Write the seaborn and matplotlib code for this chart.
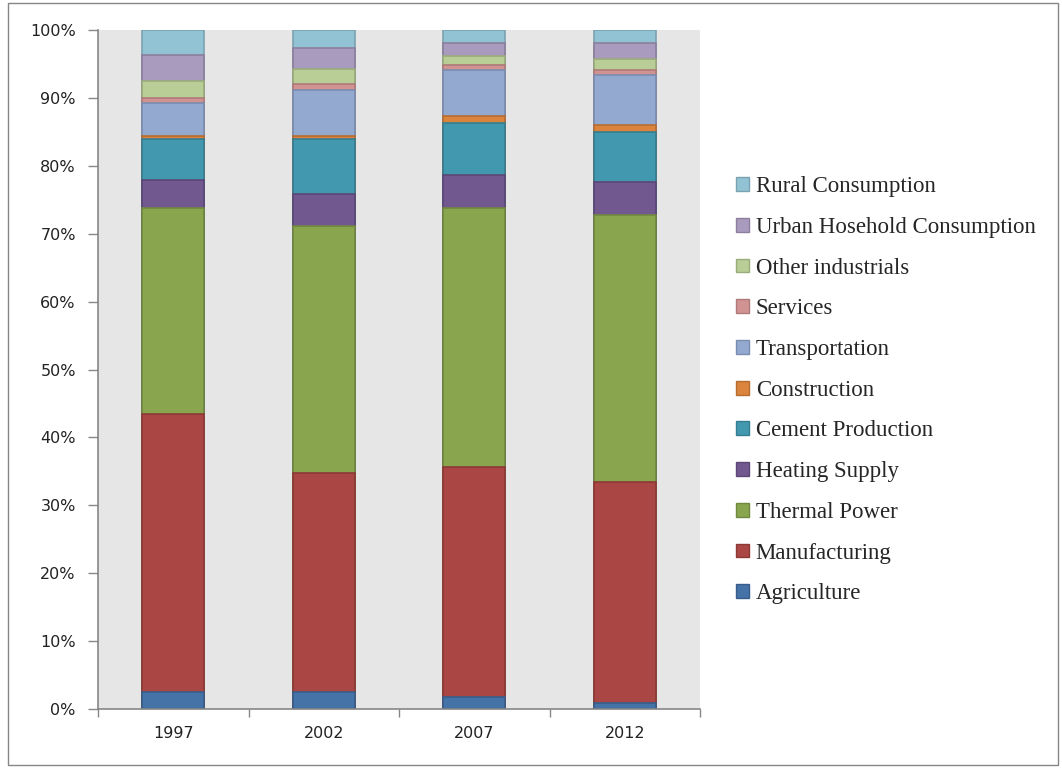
import numpy as np
import pandas as pd
import seaborn as sns
import matplotlib.pyplot as plt
from matplotlib.patches import Rectangle, Patch
from matplotlib.ticker import PercentFormatter

years = ["1997", "2002", "2007", "2012"]

# shares in percent, bottom to top
agriculture = [2.5, 2.5, 1.7, 0.9]
manufacturing = [40.9, 32.3, 33.9, 32.5]
thermal_power = [30.4, 36.3, 38.2, 39.4]
heating_supply = [4.1, 4.7, 4.8, 4.8]
cement_production = [6.0, 8.1, 7.7, 7.4]
construction = [0.5, 0.5, 1.1, 1.0]
transportation = [4.9, 6.8, 6.7, 7.3]
services = [0.7, 0.9, 0.8, 0.8]
other_industrials = [2.5, 2.2, 1.3, 1.6]
urban_household = [3.8, 3.0, 1.9, 2.4]
rural_consumption = [3.7, 2.7, 1.9, 1.9]

sectors = ["Agriculture", "Manufacturing", "Thermal Power", "Heating Supply",
           "Cement Production", "Construction", "Transportation", "Services",
           "Other industrials", "Urban Hosehold Consumption", "Rural Consumption"]
values = [agriculture, manufacturing, thermal_power, heating_supply,
          cement_production, construction, transportation, services,
          other_industrials, urban_household, rural_consumption]
colors = ["#4572A7", "#AA4643", "#89A54E", "#71588F", "#4198AF", "#DB843D",
          "#93A9CF", "#D19392", "#B9CD96", "#A99BBD", "#92C3D4"]
edges = ["#385D8A", "#8C3836", "#71893F", "#5C4776", "#357D91", "#B66D31",
         "#7A8DB0", "#AD7A79", "#9AAB7C", "#8C7F9D", "#7AA2B0"]

df = pd.DataFrame(np.array(values).T, columns=sectors)
df["Year"] = years
cum = df[sectors].cumsum(axis=1) / 100.0
cum["Year"] = years

sns.set_style("white")
fig = plt.figure(figsize=(10.62, 7.69), dpi=100)
ax = fig.add_axes([98 / 1062, 60 / 769, 602 / 1062, 679 / 769])
ax.set_facecolor("#E6E6E6")

# draw from the top layer down so each lower stack covers the one above
for name, col, ec in reversed(list(zip(sectors, colors, edges))):
    sns.barplot(data=cum, x="Year", y=name, color=col, width=0.41,
                edgecolor=ec, linewidth=1.2, saturation=1, ax=ax, zorder=2)

ax.set_xlim(-0.5, 3.5)
ax.set_ylim(0, 1)
ax.set_xlabel("")
ax.set_ylabel("")
ax.yaxis.set_major_formatter(PercentFormatter(1.0, decimals=0))
ax.set_yticks(np.arange(0, 1.01, 0.1))
ax.tick_params(axis="y", length=7, width=1, color="#868686", left=True,
               labelsize=11.5, pad=9, labelcolor="#222222")
ax.set_xticks(np.arange(-0.5, 3.6, 1.0), minor=True)
ax.tick_params(axis="x", which="major", length=0, labelsize=11.5, pad=12,
               labelcolor="#222222")
ax.tick_params(axis="x", which="minor", length=6, width=1, color="#868686",
               bottom=True)
for s in ["top", "right"]:
    ax.spines[s].set_visible(False)
for s in ["left", "bottom"]:
    ax.spines[s].set_color("#868686")
    ax.spines[s].set_linewidth(1.2)

handles = [Patch(facecolor=c, edgecolor=e, label=n)
           for n, c, e in zip(sectors, colors, edges)][::-1]
leg = fig.legend(handles=handles, loc="upper left",
                 bbox_to_anchor=(727 / 1062, 1 - 167 / 769),
                 frameon=False, prop={"family": "Liberation Serif", "size": 16.5},
                 handlelength=0.55, handleheight=0.55, handletextpad=0.3,
                 labelspacing=0.86, borderaxespad=0)

fig.patches.append(Rectangle((8 / 1062, 4 / 769), 1050 / 1062, 762 / 769,
                             transform=fig.transFigure, fill=False,
                             edgecolor="#868686", linewidth=1))

fig.savefig("out.png", dpi=100)
